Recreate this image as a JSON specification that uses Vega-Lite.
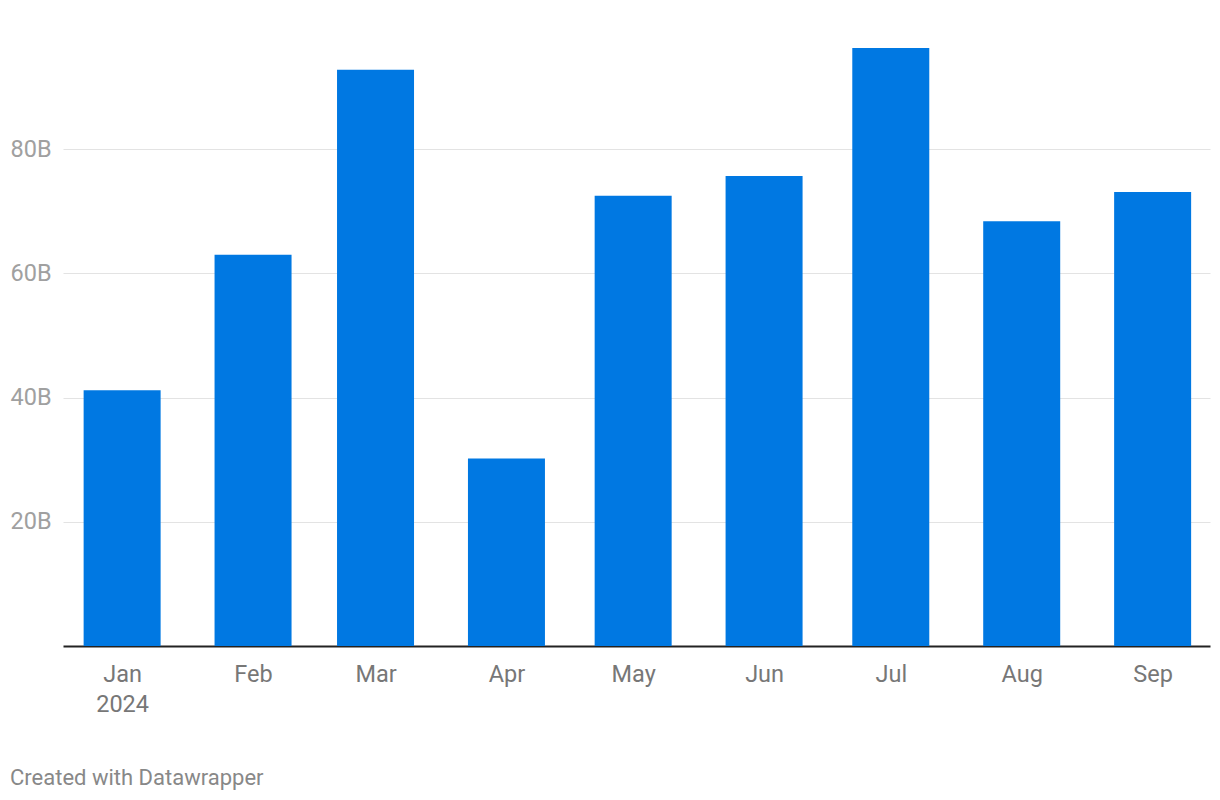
{
  "$schema": "https://vega.github.io/schema/vega-lite/v6.json",
  "width": 1147,
  "height": 621,
  "autosize": {"type": "none"},
  "padding": {"left": 63, "top": 25, "right": 10, "bottom": 154},
  "background": "#ffffff",
  "data": {
    "values": [
      {"month": "2024-01-01", "value": 41.2},
      {"month": "2024-02-01", "value": 63.0},
      {"month": "2024-03-01", "value": 92.8},
      {"month": "2024-04-01", "value": 30.2},
      {"month": "2024-05-01", "value": 72.5},
      {"month": "2024-06-01", "value": 75.7},
      {"month": "2024-07-01", "value": 96.3},
      {"month": "2024-08-01", "value": 68.4},
      {"month": "2024-09-01", "value": 73.1}
    ]
  },
  "title": {
    "text": "Created with Datawrapper",
    "orient": "bottom",
    "anchor": "start",
    "frame": "bounds",
    "font": "Roboto",
    "fontSize": 22,
    "fontWeight": "normal",
    "color": "#888888",
    "offset": 52
  },
  "mark": {"type": "bar", "width": 77, "color": "#0078e2"},
  "encoding": {
    "x": {
      "field": "month",
      "type": "temporal",
      "scale": {"domain": [{"year": 2023, "month": 12, "date": 18}, {"year": 2024, "month": 9, "date": 14, "hours": 14}], "padding": 0},
      "axis": {
        "title": null,
        "values": [
          {"year": 2024, "month": 1, "date": 1},
          {"year": 2024, "month": 2, "date": 1},
          {"year": 2024, "month": 3, "date": 1},
          {"year": 2024, "month": 4, "date": 1},
          {"year": 2024, "month": 5, "date": 1},
          {"year": 2024, "month": 6, "date": 1},
          {"year": 2024, "month": 7, "date": 1},
          {"year": 2024, "month": 8, "date": 1},
          {"year": 2024, "month": 9, "date": 1}
        ],
        "labelExpr": "month(datum.value) == 0 ? [timeFormat(datum.value, '%b'), timeFormat(datum.value, '%Y')] : timeFormat(datum.value, '%b')",
        "grid": false,
        "ticks": false,
        "tickSize": 0,
        "labelPadding": 16,
        "labelFont": "Roboto",
        "labelFontSize": 23.5,
        "labelColor": "#777777",
        "labelLineHeight": 30,
        "labelFlush": false,
        "labelOverlap": false,
        "domainColor": "#222222",
        "domainWidth": 2
      }
    },
    "y": {
      "field": "value",
      "type": "quantitative",
      "scale": {"domain": [0, 100], "nice": false},
      "axis": {
        "title": null,
        "values": [20, 40, 60, 80],
        "labelExpr": "datum.value + 'B'",
        "domain": false,
        "ticks": false,
        "tickSize": 0,
        "labelAlign": "left",
        "labelBaseline": "middle",
        "labelPadding": 53,
        "labelFont": "Roboto",
        "labelFontSize": 23.5,
        "labelColor": "#a0a0a0",
        "grid": true,
        "gridColor": "#e3e3e3",
        "gridWidth": 1
      }
    }
  },
  "config": {"view": {"stroke": null}}
}
